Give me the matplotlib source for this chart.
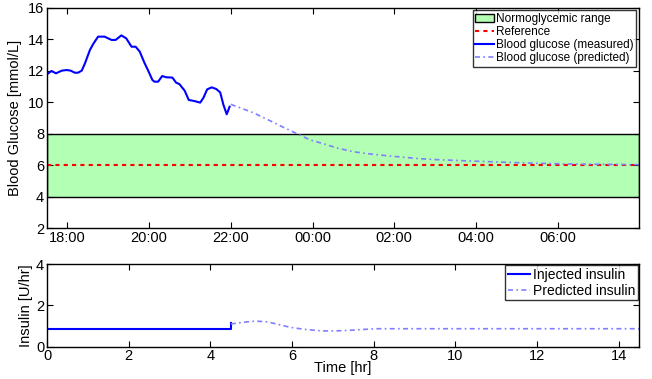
import numpy as np
import matplotlib
matplotlib.use('Agg')
import matplotlib.pyplot as plt
from matplotlib.patches import Patch

plt.rcParams['font.family'] = ['Liberation Sans', 'DejaVu Sans']

# time in hours from 17:30
t_meas = [0.0, 0.11, 0.22, 0.36, 0.48, 0.58, 0.68, 0.76, 0.85, 0.93, 1.05, 1.13, 1.25,
          1.41, 1.58, 1.68, 1.82, 1.94, 2.07, 2.17, 2.27, 2.39, 2.47, 2.58, 2.63, 2.72,
          2.82, 2.92, 3.07, 3.16, 3.24, 3.37, 3.47, 3.61, 3.75, 3.83, 3.92, 4.03, 4.14,
          4.24, 4.32, 4.40, 4.47]
bg_meas = [11.76, 11.97, 11.82, 11.99, 12.03, 11.99, 11.86, 11.86, 11.99, 12.46, 13.3,
           13.68, 14.15, 14.15, 13.94, 13.94, 14.23, 14.04, 13.51, 13.51, 13.2, 12.46,
           12.03, 11.4, 11.29, 11.29, 11.65, 11.57, 11.55, 11.23, 11.14, 10.72, 10.13,
           10.06, 9.96, 10.27, 10.8, 10.93, 10.83, 10.61, 9.81, 9.22, 9.7]

t_pred = [4.5, 5.05, 5.46, 5.79, 6.12, 6.44, 6.77, 7.1, 7.5, 7.91, 8.32, 8.73, 9.14,
          9.55, 10.4, 11.26, 12.0, 12.88, 13.7, 14.5]
bg_pred = [9.85, 9.32, 8.81, 8.39, 7.99, 7.59, 7.35, 7.08, 6.84, 6.7, 6.59, 6.49, 6.4,
           6.34, 6.25, 6.17, 6.11, 6.06, 6.04, 6.02]

t_ins = [0.0, 4.5, 4.5]
ins_inj = [0.87, 0.87, 1.13]
t_ins_pred = [4.5, 4.8, 5.1, 5.4, 5.7, 5.95, 6.3, 6.69, 6.93, 7.3, 7.7, 8.07, 9.0,
              10.0, 12.0, 14.5]
ins_pred = [1.1, 1.18, 1.24, 1.2, 1.06, 0.94, 0.84, 0.77, 0.76, 0.78, 0.83, 0.87,
            0.87, 0.87, 0.87, 0.87]

ref_level = 6.0
normo_low, normo_high = 4.0, 8.0
time_labels = ['18:00', '20:00', '22:00', '00:00', '02:00', '04:00', '06:00']

pred_col = '#7f7fff'
pred_ls = (0, (3, 2, 1, 2))

fig = plt.figure(figsize=(6.52, 3.79), dpi=100)
ax1 = fig.add_axes([0.0721, 0.3984, 0.9084, 0.5818])
ax2 = fig.add_axes([0.0721, 0.0852, 0.9084, 0.2182])

# top panel
ax1.axhspan(normo_low, normo_high, facecolor='#b3ffb3', edgecolor='black', lw=1)
ax1.axhline(ref_level, color='red', ls=(0, (2, 2)), lw=1.5)
ax1.plot(t_meas, bg_meas, color='blue', lw=1.5)
ax1.plot(t_pred, bg_pred, color=pred_col, ls=pred_ls, lw=1.2)
ax1.set_xlim(0, 14.5)
ax1.set_ylim(2, 16)
ax1.set_yticks(np.arange(2, 17, 2))
ax1.set_xticks(np.arange(0.5, 14, 2))
ax1.set_xticklabels(time_labels)
ax1.set_ylabel('Blood Glucose [mmol/L]', fontsize=10.5)

handles = [Patch(facecolor='#b3ffb3', edgecolor='black'),
           plt.Line2D([], [], color='red', ls=(0, (2, 2)), lw=1.5),
           plt.Line2D([], [], color='blue', lw=1.5),
           plt.Line2D([], [], color=pred_col, ls=pred_ls, lw=1.2)]
leg1 = ax1.legend(handles, ['Normoglycemic range', 'Reference', 'Blood glucose (measured)',
                            'Blood glucose (predicted)'],
                  loc='upper right', fontsize=8.5, frameon=True, fancybox=False,
                  borderpad=0.2, labelspacing=0.1, handlelength=1.6, handletextpad=0.2,
                  borderaxespad=0.25)
leg1.get_frame().set_edgecolor('black')
leg1.get_frame().set_linewidth(1)

# bottom panel
ax2.plot(t_ins, ins_inj, color='blue', lw=1.5, label='Injected insulin')
ax2.plot(t_ins_pred, ins_pred, color=pred_col, ls=pred_ls, lw=1.2, label='Predicted insulin')
ax2.set_xlim(0, 14.5)
ax2.set_ylim(0, 4)
ax2.set_yticks([0, 2, 4])
ax2.set_xticks(np.arange(0, 15, 2))
ax2.set_xlabel('Time [hr]', fontsize=10.5, labelpad=-2)
ax2.set_ylabel('Insulin [U/hr]', fontsize=10.5, labelpad=2)
leg2 = ax2.legend(loc='upper right', fontsize=10, frameon=True, fancybox=False,
                  borderpad=0.2, labelspacing=0.1, handlelength=1.6, handletextpad=0.2,
                  borderaxespad=0.1)
leg2.get_frame().set_edgecolor('black')
leg2.get_frame().set_linewidth(1)

for ax in (ax1, ax2):
    ax.tick_params(direction='in', top=True, right=True, labelsize=10.5, length=4, pad=2)
    for s in ax.spines.values():
        s.set_linewidth(1)

fig.savefig('out.png', dpi=100)
